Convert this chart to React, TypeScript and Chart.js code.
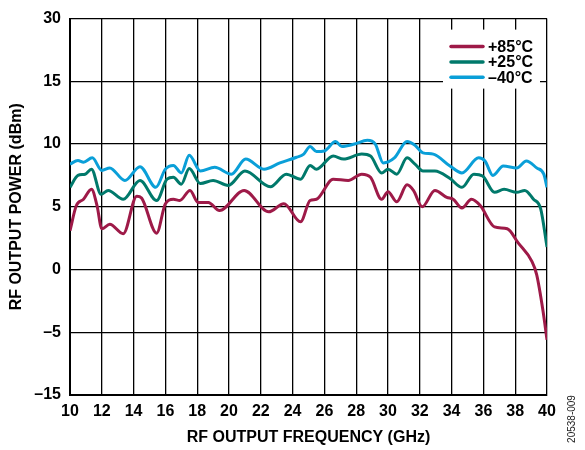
import React, { useEffect, useRef } from "react";
import { Chart, registerables } from "chart.js";

Chart.register(...registerables);

// ---- Data ----
const labels = ["+85°C", "+25°C", "–40°C"];
const colors = ["#9E1A48", "#00796B", "#0A9FD8"];

const freq85 = [10.0, 10.4, 10.85, 11.35, 11.7, 12.0, 12.5, 13.35, 14.2, 14.5, 15.45, 16.0, 16.5, 16.9, 17.55, 18.05, 18.7, 19.4, 20.95, 22.5, 23.45, 24.5, 25.1, 25.5, 26.55, 27.5, 28.35, 28.9, 29.6, 30.0, 30.55, 31.2, 31.6, 32.15, 32.95, 33.7, 34.1, 34.65, 35.25, 35.8, 36.7, 37.5, 38.2, 39.05, 39.35, 39.75, 40.0];
const pwr85 = [3.1, 5.1, 5.6, 6.4, 5.1, 3.25, 3.6, 2.85, 5.85, 5.7, 2.9, 5.25, 5.6, 5.5, 6.3, 5.35, 5.35, 4.7, 6.3, 4.6, 5.25, 3.8, 5.5, 5.6, 7.2, 7.1, 7.6, 7.35, 5.6, 6.2, 5.4, 6.75, 6.3, 5.0, 6.3, 5.75, 5.6, 4.9, 5.6, 5.1, 3.4, 3.25, 2.1, 0.65, -0.4, -3.3, -5.6];

const freq25 = [10.0, 10.5, 10.95, 11.35, 11.95, 12.4, 13.35, 14.4, 15.45, 16.1, 16.5, 17.0, 17.5, 18.2, 19.0, 19.95, 21.0, 22.6, 23.6, 24.5, 25.1, 25.5, 26.55, 27.2, 28.35, 28.9, 29.6, 30.0, 30.55, 31.2, 31.7, 32.2, 32.95, 33.9, 34.65, 35.4, 35.95, 36.7, 37.3, 38.1, 38.6, 39.15, 39.6, 40.0];
const pwr25 = [6.55, 7.5, 7.6, 8.0, 6.0, 6.3, 5.6, 7.1, 5.5, 7.2, 7.35, 6.8, 8.05, 6.85, 7.1, 6.7, 7.85, 6.6, 7.6, 7.2, 8.3, 8.0, 9.05, 8.8, 9.2, 9.05, 7.7, 8.0, 7.6, 8.9, 8.4, 7.85, 7.85, 7.25, 6.55, 7.6, 7.45, 6.15, 6.4, 6.15, 6.3, 5.6, 4.85, 1.8];

const freqM40 = [10.0, 10.5, 10.85, 11.4, 12.0, 12.5, 13.45, 14.4, 15.4, 16.0, 16.5, 17.0, 17.5, 18.2, 19.1, 20.15, 21.05, 22.2, 23.2, 24.25, 24.7, 25.1, 25.5, 26.0, 26.7, 27.1, 27.9, 28.7, 29.2, 29.7, 30.4, 31.2, 31.7, 32.2, 32.85, 33.9, 34.65, 35.7, 36.1, 36.6, 37.25, 38.1, 38.7, 39.35, 39.8, 40.0];
const pwrM40 = [8.4, 8.7, 8.55, 8.9, 7.9, 8.1, 7.1, 8.2, 6.55, 8.0, 8.3, 7.7, 9.1, 7.85, 8.15, 7.6, 8.8, 8.0, 8.5, 8.95, 9.2, 9.8, 9.4, 9.45, 10.2, 9.8, 10.0, 10.3, 10.0, 8.5, 8.9, 10.2, 9.9, 9.3, 9.2, 8.25, 7.7, 8.9, 8.65, 7.5, 8.25, 8.1, 8.65, 8.1, 7.6, 6.55];

const xTicks = [10, 12, 14, 16, 18, 20, 22, 24, 26, 28, 30, 32, 34, 36, 38, 40];
const yTickValues = [-10, -5, 0, 5, 10, 15, 20];
const yTickLabels = ["–15", "–5", "0", "5", "10", "15", "30"];

const xTitle = "RF OUTPUT FREQUENCY (GHz)";
const yTitle = "RF OUTPUT POWER (dBm)";
const figureId = "20538-009";

const FONT = "'Liberation Sans', Arial, sans-serif";

function pts(xs: number[], ys: number[]) {
  return xs.map((x, i) => ({ x, y: ys[i] }));
}

const legendPlugin = {
  id: "boxLegend",
  afterDatasetsDraw(chart: any) {
    const ctx = chart.ctx;
    const ca = chart.chartArea;
    const x0 = ca.right - 104;
    const y0 = ca.top + 11;
    ctx.save();
    ctx.fillStyle = "#ffffff";
    ctx.fillRect(x0, y0, 97, 59);
    chart.data.datasets.forEach((ds: any, i: number) => {
      const y = y0 + 17 + i * 15.3;
      ctx.strokeStyle = ds.borderColor;
      ctx.lineWidth = 3.5;
      ctx.lineCap = "round";
      ctx.beginPath();
      ctx.moveTo(x0 + 8, y);
      ctx.lineTo(x0 + 40, y);
      ctx.stroke();
      ctx.fillStyle = "#000";
      ctx.font = `bold 16px ${FONT}`;
      ctx.textAlign = "left";
      ctx.textBaseline = "middle";
      ctx.fillText(ds.label, x0 + 45, y + 1);
    });
    ctx.restore();
  },
  afterDraw(chart: any) {
    const ctx = chart.ctx;
    ctx.save();
    ctx.translate(572, 419);
    ctx.rotate(-Math.PI / 2);
    ctx.fillStyle = "#222";
    ctx.font = `10px ${FONT}`;
    ctx.textAlign = "center";
    ctx.textBaseline = "middle";
    ctx.fillText(figureId, 0, 0);
    ctx.restore();
  },
};

export default function App() {
  const ref = useRef<HTMLCanvasElement | null>(null);
  useEffect(() => {
    document.body.style.margin = "0";
    const series = [pts(freq85, pwr85), pts(freq25, pwr25), pts(freqM40, pwrM40)];
    const chart = new Chart(ref.current as HTMLCanvasElement, {
      type: "line",
      data: {
        datasets: series.map((d, i) => ({
          label: labels[i],
          data: d,
          borderColor: colors[i],
          backgroundColor: colors[i],
          borderWidth: 3,
          pointRadius: 0,
          cubicInterpolationMode: "monotone" as const,
          fill: false,
        })),
      },
      options: {
        animation: false,
        responsive: false,
        maintainAspectRatio: false,
        layout: { padding: { top: 14, right: 38, left: 0, bottom: 0 } },
        plugins: { legend: { display: false }, tooltip: { enabled: false } },
        scales: {
          x: {
            type: "linear",
            min: 10,
            max: 40,
            afterBuildTicks(scale: any) {
              scale.ticks = xTicks.map((v) => ({ value: v }));
            },
            afterFit(scale: any) {
              scale.height = 55;
            },
            grid: { color: "#000", lineWidth: 1.3, drawTicks: false },
            border: { color: "#000", width: 2 },
            ticks: {
              padding: 7,
              color: "#000",
              font: { family: FONT, size: 16, weight: "bold" },
              maxRotation: 0,
              autoSkip: false,
            },
            title: {
              display: true,
              text: xTitle,
              color: "#000",
              font: { family: FONT, size: 16, weight: "bold" },
              padding: { top: 0, bottom: 3 },
            },
          },
          y: {
            type: "linear",
            min: -10,
            max: 20,
            afterBuildTicks(scale: any) {
              scale.ticks = yTickValues.map((v) => ({ value: v }));
            },
            afterFit(scale: any) {
              scale.width = 70;
            },
            grid: { color: "#000", lineWidth: 1.3, drawTicks: false },
            border: { color: "#000", width: 2 },
            ticks: {
              padding: 9,
              color: "#000",
              font: { family: FONT, size: 16, weight: "bold" },
              callback: (v: any) => {
                const i = yTickValues.indexOf(Number(v));
                return i >= 0 ? yTickLabels[i] : "";
              },
            },
            title: {
              display: true,
              text: yTitle,
              color: "#000",
              font: { family: FONT, size: 16, weight: "bold" },
              padding: { top: 7, bottom: 0 },
            },
          },
        },
      },
      plugins: [legendPlugin],
    } as any);
    return () => chart.destroy();
  }, []);
  return (
    <div style={{ width: 585, height: 450 }}>
      <canvas ref={ref} width={585} height={450} style={{ width: 585, height: 450, display: "block" }} />
    </div>
  );
}
